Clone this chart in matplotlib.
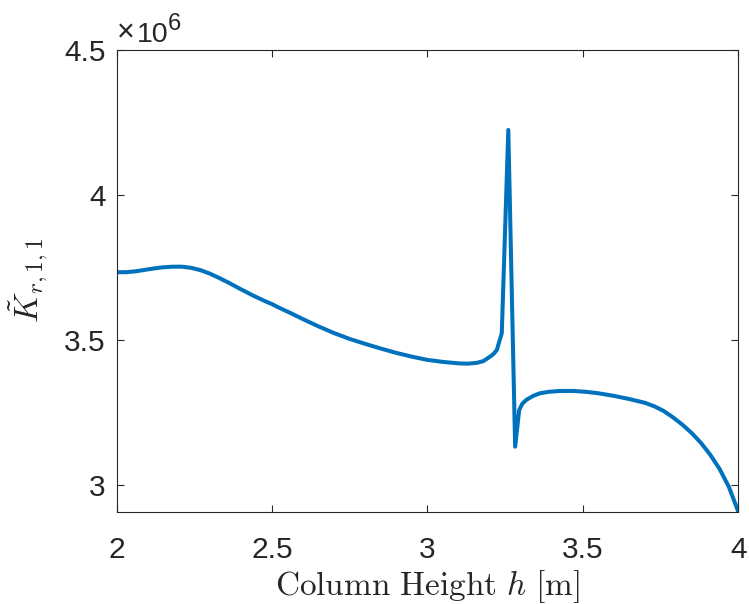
import matplotlib
matplotlib.use("Agg")
import matplotlib.pyplot as plt

# Column height h [m]
height = [2.000, 2.030, 2.060, 2.090, 2.120, 2.150, 2.180, 2.210, 2.240, 2.270,
          2.300, 2.330, 2.360, 2.400, 2.440, 2.480, 2.500, 2.520, 2.560, 2.600,
          2.650, 2.700, 2.750, 2.800, 2.850, 2.900, 2.950, 3.000, 3.050, 3.100,
          3.130, 3.160, 3.180, 3.201, 3.213, 3.223, 3.239, 3.260, 3.282, 3.295,
          3.305, 3.319, 3.340, 3.362, 3.390, 3.426, 3.470, 3.510, 3.550, 3.600,
          3.650, 3.700, 3.730, 3.760, 3.790, 3.820, 3.850, 3.880, 3.910, 3.940,
          3.970, 4.000]
# Stiffness entry K_r,1,1 (in units of 1e6)
k_r11 = [3.733, 3.733, 3.736, 3.741, 3.746, 3.750, 3.752, 3.752, 3.748, 3.740,
         3.728, 3.713, 3.697, 3.674, 3.652, 3.632, 3.623, 3.612, 3.592, 3.571,
         3.546, 3.523, 3.503, 3.486, 3.470, 3.455, 3.442, 3.431, 3.424, 3.419,
         3.418, 3.421, 3.427, 3.442, 3.452, 3.465, 3.523, 4.223, 3.132, 3.258,
         3.280, 3.294, 3.307, 3.316, 3.321, 3.324, 3.324, 3.321, 3.316, 3.307,
         3.296, 3.283, 3.271, 3.255, 3.233, 3.208, 3.179, 3.145, 3.104, 3.055,
         2.993, 2.908]

x_ticks = [2, 2.5, 3, 3.5, 4]
x_ticklabels = ["2", "2.5", "3", "3.5", "4"]
y_ticks = [3, 3.5, 4, 4.5]
y_ticklabels = ["3", "3.5", "4", "4.5"]

plt.rcParams["font.family"] = ["Liberation Sans", "DejaVu Sans"]
plt.rcParams["mathtext.fontset"] = "cm"

W, H = 749, 604
fig = plt.figure(figsize=(W / 100, H / 100), dpi=100)
ax = fig.add_axes([0.1558, 0.1518, 0.8299, 0.7662])

ax.plot(height, k_r11, color="#0072BD", lw=2.9, solid_joinstyle="round")

ax.set_xlim(2, 4)
ax.set_ylim(2.906, 4.5)
ax.set_xticks(x_ticks)
ax.set_xticklabels(x_ticklabels)
ax.set_yticks(y_ticks)
ax.set_yticklabels(y_ticklabels)

axis_col = "#262626"
for s in ax.spines.values():
    s.set_color(axis_col)
    s.set_linewidth(0.8)
ax.tick_params(direction="in", length=5, width=0.8, colors=axis_col,
               labelsize=21.5, top=True, right=True)
ax.tick_params(axis="x", pad=17)
ax.tick_params(axis="y", pad=8)
for lab in ax.get_xticklabels() + ax.get_yticklabels():
    lab.set_color(axis_col)

ax.set_xlabel(r"$\mathrm{Column\ Height}\ h\ [\mathrm{m}]$", fontsize=24,
              color=axis_col, labelpad=3)
ax.set_ylabel(r"$\tilde{K}_{r,1,1}$", fontsize=24, color=axis_col, labelpad=10)

# exponent multiplier above the y axis
fig.text(117 / W, 1 - 41.7 / H, "\u00d7", fontsize=22, color=axis_col,
         ha="left", va="baseline")
fig.text(137 / W, 1 - 41.7 / H, "10", fontsize=20.5, color=axis_col,
         ha="left", va="baseline")
fig.text(168 / W, 1 - 30 / H, "6", fontsize=17, color=axis_col,
         ha="left", va="baseline")

fig.savefig("out.png", dpi=100)
